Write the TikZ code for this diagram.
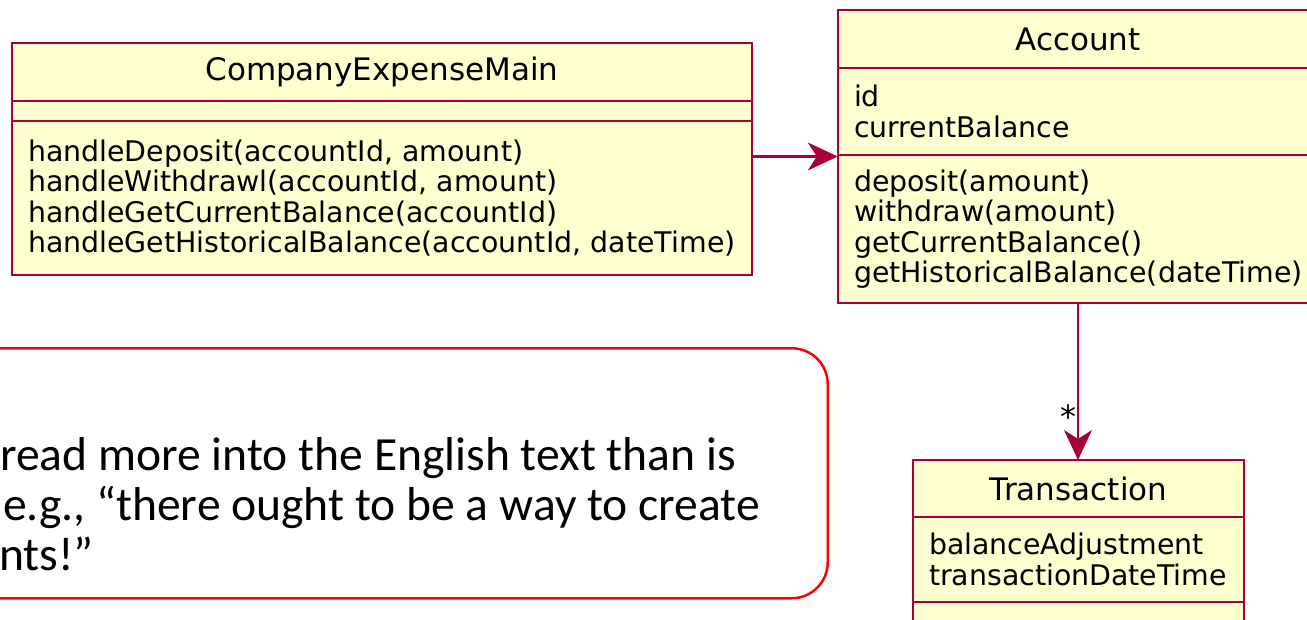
\documentclass[tikz,border=0pt]{standalone}
\usepackage{fontspec}
\setmainfont{DejaVu Sans}
\newfontfamily\notefont{Carlito}
\usepackage{tikz}
\usetikzlibrary{arrows.meta, positioning, fit}
\definecolor{umlfill}{HTML}{FEFECE}
\definecolor{umlline}{HTML}{A80036}
\definecolor{notered}{HTML}{FF0000}

\begin{document}
\begin{tikzpicture}[x=1pt, y=-1pt,
    classhead/.style={draw=umlline, fill=umlfill, line width=2.4pt, outer sep=0pt,
        font=\fontsize{31}{34}\selectfont, anchor=north west},
    classpart/.style={draw=umlline, fill=umlfill, line width=2.4pt, outer sep=0pt,
        font=\fontsize{28.4}{30.5}\selectfont, align=left, inner xsep=16pt},
    assoc/.style={draw=umlline, line width=2.4pt,
        -{Stealth[length=30pt, width=28pt, inset=9pt]}},
    notebox/.style={draw=notered, line width=2.5pt, rounded corners=36pt},
    notetext/.style={font=\notefont\fontsize{47.6}{50}\selectfont, anchor=base west, inner sep=0pt}]
    \useasboundingbox (0,0) rectangle (1307,619);
    \clip (0,0) rectangle (1307,619);

    % ── CompanyExpenseMain ────────────────────────────────────────────
    \node[classhead, minimum width=740pt, minimum height=58pt] (cemHead) at (12,43) {CompanyExpenseMain};
    \node[classpart, minimum width=740pt, minimum height=20pt, below=0pt of cemHead] (cemAttr) {};
    \node[classpart, text width=708pt, minimum height=154pt, below=0pt of cemAttr] (cemOps)
        {handleDeposit(accountId, amount)\\
         handleWithdrawl(accountId, amount)\\
         handleGetCurrentBalance(accountId)\\
         handleGetHistoricalBalance(accountId, dateTime)};
    \node[fit=(cemHead)(cemOps), inner sep=0pt] (cem) {};

    % ── Account ───────────────────────────────────────────────────────
    \node[classhead, minimum width=480pt, minimum height=58pt] (acctHead) at (838,10) {Account};
    \node[classpart, text width=448pt, minimum height=87pt, below=0pt of acctHead] (acctAttr)
        {id\\
         currentBalance};
    \node[classpart, text width=448pt, minimum height=148pt, below=0pt of acctAttr] (acctOps)
        {deposit(amount)\\
         withdraw(amount)\\
         getCurrentBalance()\\
         getHistoricalBalance(dateTime)};
    \node[fit=(acctHead)(acctOps), inner sep=0pt] (acct) {};

    % ── Transaction ───────────────────────────────────────────────────
    \node[classhead, minimum width=331pt, minimum height=57pt] (transHead) at (913,460) {Transaction};
    \node[classpart, text width=299pt, minimum height=85pt, below=0pt of transHead] (transAttr)
        {balanceAdjustment\\
         transactionDateTime};
    \node[classpart, minimum width=331pt, minimum height=30pt, below=0pt of transAttr] (transOps) {};

    % ── associations ──────────────────────────────────────────────────
    \draw[assoc] (cem.east |- acct.west) -- (acct.west);
    \draw[assoc] (acct.south) -- (acct.south |- transHead.north)
        node[pos=0.7, left=0pt, yshift=-4pt, font=\fontsize{32}{34}\selectfont, inner sep=0.5pt] (many) {*};

    % ── note ──────────────────────────────────────────────────────────
    \node[notebox, minimum width=1080pt, minimum height=250pt, anchor=north east] (note) at (829,347) {};
    \node[notetext] (noteA) at (0,470) {read more into the English text than is};
    \node[notetext] (noteB) at (3,520) {e.g., “there ought to be a way to create};
    \node[notetext] (noteC) at (-1,570) {nts!”};
\end{tikzpicture}
\end{document}
